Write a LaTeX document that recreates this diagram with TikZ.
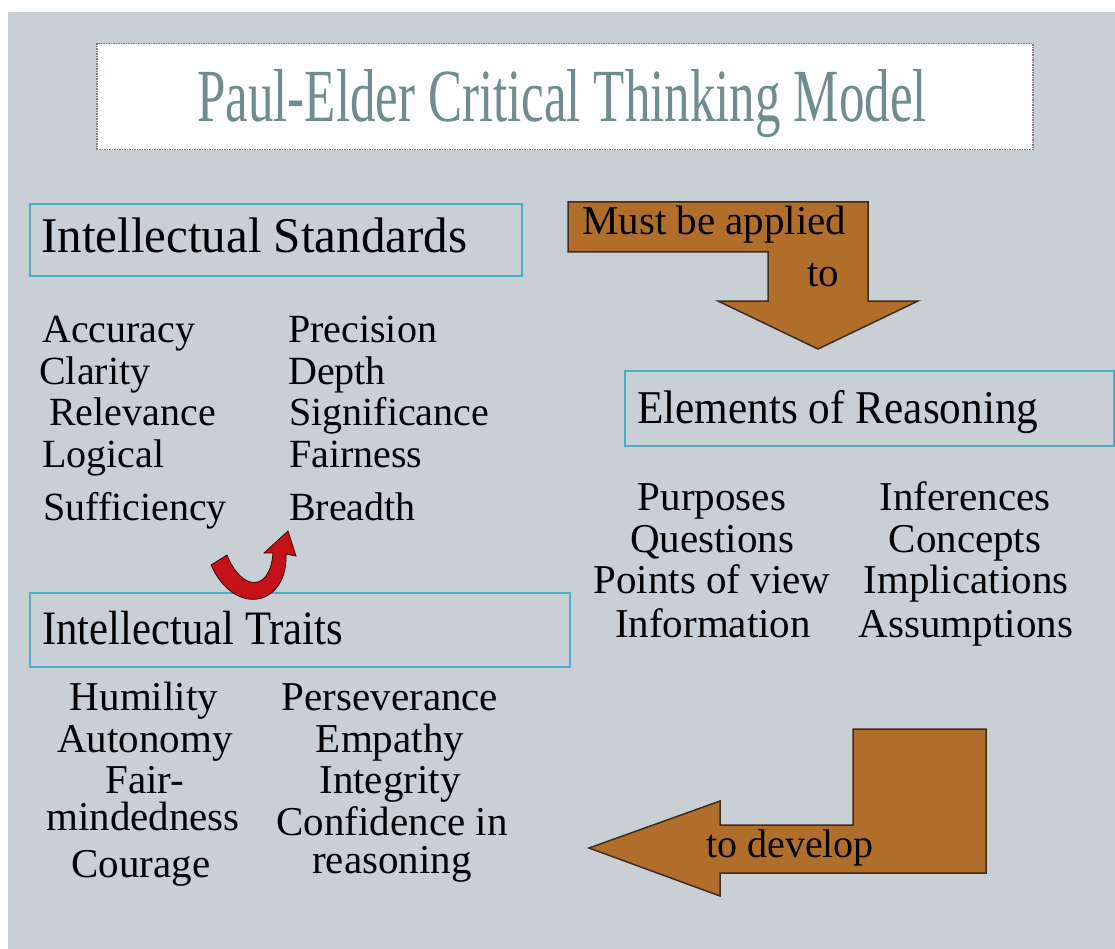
\documentclass[tikz,border=0pt]{standalone}
\usepackage{fontspec}
\setmainfont{Liberation Serif}
\usepackage{graphicx}
\definecolor{bgc}{RGB}{200,208,214}
\definecolor{brownc}{RGB}{176,110,42}
\definecolor{edgec}{RGB}{60,45,30}
\definecolor{cyanc}{RGB}{75,172,198}
\definecolor{titlec}{RGB}{112,140,140}
\definecolor{redc}{RGB}{196,18,24}
\definecolor{dotc}{RGB}{140,120,120}
\begin{document}
\begin{tikzpicture}[x=1pt,y=-1pt,
  hbox/.style={draw=cyanc,line width=2pt,anchor=north west,inner sep=0pt},
  itemL/.style={anchor=base west,inner sep=0pt,font=\fontsize{40}{40}\selectfont},
  itemC/.style={anchor=base,inner sep=0pt,font=\fontsize{41}{41}\selectfont},
  head/.style={anchor=base west,inner sep=0pt},
  bent/.style={fill=brownc,draw=edgec,line width=1.5pt,line join=miter},
  arrowtxt/.style={anchor=base,inner sep=0pt,font=\fontsize{41}{41}\selectfont}]
\useasboundingbox (0,0) rectangle (1115,949);
\fill[white] (0,0) rectangle (1115,949);
\fill[bgc] (8,12) rectangle (1115,949);

% title
\node[draw=dotc,densely dotted,line width=1.5pt,fill=white,anchor=north west,
  minimum width=936pt,minimum height=106pt,inner sep=0pt] (titlebox) at (96,43) {};
\node[anchor=base,inner sep=0pt,text=titlec,font=\fontsize{75}{75}\selectfont] (title) at (562,122)
  {\scalebox{0.68}[1]{Paul-Elder Critical Thinking Model}};

% Intellectual Standards
\node[hbox,minimum width=492pt,minimum height=72pt] (stdbox) at (29,203) {};
\node[head,font=\fontsize{50}{50}\selectfont] (stdhead) at (41,253) {\scalebox{0.98}[1]{Intellectual Standards}};
\node[itemL] (s1) at (42,342) {Accuracy};
\node[itemL] (s2) at (39,384) {Clarity};
\node[itemL] (s3) at (49,425) {Relevance};
\node[itemL] (s4) at (42,467) {Logical};
\node[itemL] (s5) at (43,520) {Sufficiency};
\node[itemL] (s6) at (288,342) {Precision};
\node[itemL] (s7) at (288,384) {Depth};
\node[itemL] (s8) at (289,425) {Significance};
\node[itemL] (s9) at (289,467) {Fairness};
\node[itemL] (s10) at (289,520) {Breadth};

% Must be applied arrow
\path[bent] (568,202) -- (868,202) -- (868,301) -- (918,301) -- (818,349)
  -- (718,301) -- (768,301) -- (768,252) -- (568,252) -- cycle;
\node[anchor=base west,inner sep=0pt,font=\fontsize{41}{41}\selectfont] (must) at (582,235) {Must be applied};
\node[arrowtxt] (to) at (823,287) {to};

% Elements of Reasoning
\node[hbox,minimum width=489pt,minimum height=75pt] (elbox) at (624,370) {};
\node[head,font=\fontsize{47}{47}\selectfont] (elhead) at (637,423) {\scalebox{0.92}[1]{Elements of Reasoning}};
\node[itemC] (e1) at (712,510) {Purposes};
\node[itemC] (e2) at (712,552) {Questions};
\node[itemC] (e3) at (712,593) {Points of view};
\node[itemC] (e4) at (713,637) {Information};
\node[itemC] (e5) at (965,510) {Inferences};
\node[itemC] (e6) at (965,552) {Concepts};
\node[itemC] (e7) at (966,593) {Implications};
\node[itemC] (e8) at (966,637) {Assumptions};

% Intellectual Traits
\node[hbox,minimum width=540pt,minimum height=74pt] (trbox) at (29,592) {};
\node[head,font=\fontsize{48}{48}\selectfont] (trhead) at (42,644) {\scalebox{0.89}[1]{Intellectual Traits}};
\node[itemC] (t1) at (144,710) {Humility};
\node[itemC] (t2) at (145,752) {Autonomy};
\node[itemC] (t3) at (145,793) {Fair-};
\node[itemC] (t4) at (143,830) {mindedness};
\node[itemC] (t5) at (141,877) {Courage};
\node[itemC] (t6) at (390,710) {Perseverance};
\node[itemC] (t7) at (390,752) {Empathy};
\node[itemC] (t8) at (390,793) {Integrity};
\node[itemC] (t9) at (392,835) {Confidence in};
\node[itemC] (t10) at (392,873) {reasoning};

% red curved arrow
\path[fill=redc,draw=black!70!redc,line width=0.8pt]
  (211,565) -- (227,555)
  .. controls (242,592) and (270,592) .. (273,553)
  -- (264,553) -- (288,531) -- (296,556) -- (286,554)
  .. controls (288,606) and (235,618) .. (211,565) -- cycle;

% to develop arrow
\path[bent] (853,729) -- (986,729) -- (986,873) -- (720,873) -- (720,896)
  -- (589,848) -- (720,801) -- (720,825) -- (853,825) -- cycle;
\node[arrowtxt,font=\fontsize{40}{40}\selectfont] (dev) at (790,857) {to develop};
\end{tikzpicture}
\end{document}
